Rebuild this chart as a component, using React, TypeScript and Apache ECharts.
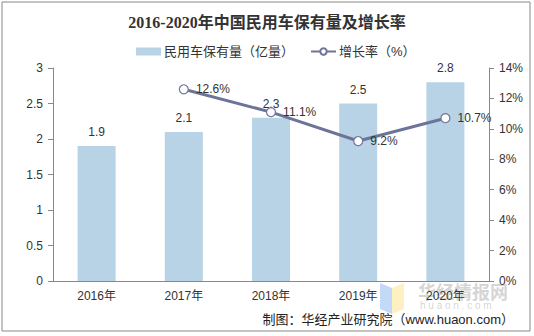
import React, { useEffect, useRef } from "react";
import * as echarts from "echarts";

const categories = ["2016年", "2017年", "2018年", "2019年", "2020年"];
const vehicles = [1.9, 2.1, 2.3, 2.5, 2.8];
const growth: (number | null)[] = [null, 12.6, 11.1, 9.2, 10.7];
const leftTicks = { min: 0, max: 3, interval: 0.5 };
const rightTicks = { min: 0, max: 14, interval: 2 };

const SANS = "Liberation Sans, Arial, Noto Sans CJK SC, sans-serif";

export default function App() {
  const ref = useRef<HTMLDivElement>(null);
  useEffect(() => {
    const chart = echarts.init(ref.current!, undefined, { renderer: "svg" });
    chart.setOption({
      animation: false,
      textStyle: { fontFamily: SANS },
      title: {
        text: "2016-2020年中国民用车保有量及增长率",
        left: "center",
        top: 9,
        textStyle: {
          fontFamily: "Liberation Serif, Noto Sans CJK SC, serif",
          fontWeight: "bold",
          fontSize: 16,
          color: "#333",
        },
      },
      legend: {
        top: 40,
        left: 131,
        itemGap: 16,
        itemWidth: 25,
        itemHeight: 8,
        textStyle: { fontSize: 13, color: "#333", fontFamily: SANS, padding: [0, 0, 0, -2] },
        data: [
          { name: "民用车保有量（亿量）", icon: "rect" },
          { name: "增长率（%）" },
        ],
      },
      grid: { left: 53, right: 45, top: 68, bottom: 55 },
      xAxis: {
        type: "category",
        data: categories,
        axisLine: { lineStyle: { color: "#888" } },
        axisTick: { lineStyle: { color: "#888" } },
        axisLabel: { color: "#333", fontSize: 12, margin: 9 },
      },
      yAxis: [
        {
          type: "value",
          ...leftTicks,
          axisLine: { show: true, lineStyle: { color: "#888" } },
          axisTick: { show: true, lineStyle: { color: "#888" } },
          splitLine: { show: false },
          axisLabel: { color: "#333", fontSize: 12, margin: 10 },
        },
        {
          type: "value",
          ...rightTicks,
          axisLine: { show: true, lineStyle: { color: "#888" } },
          axisTick: { show: true, lineStyle: { color: "#888" } },
          splitLine: { show: false },
          axisLabel: { color: "#333", fontSize: 12, margin: 10, formatter: "{value}%" },
        },
      ],
      series: [
        {
          name: "民用车保有量（亿量）",
          type: "bar",
          data: vehicles,
          barWidth: 38,
          itemStyle: { color: "#b8d3e5" },
          label: { show: true, position: "top", color: "#333", fontSize: 12, distance: 8 },
        },
        {
          name: "增长率（%）",
          type: "line",
          yAxisIndex: 1,
          data: growth,
          symbol: "circle",
          symbolSize: 9,
          lineStyle: { color: "#6c7599", width: 3 },
          itemStyle: { color: "#fff", borderColor: "#6c7599", borderWidth: 1.2 },
          label: {
            show: true,
            position: "right",
            distance: 7,
            color: "#333",
            fontSize: 12,
            formatter: "{c}%",
          },
        },
      ],
      graphic: [
        {
          type: "rect",
          shape: { x: 2, y: 2, width: 528, height: 329 },
          style: { fill: "none", stroke: "#888", lineWidth: 1 },
          silent: true,
          z: -1,
        },
        {
          type: "polygon",
          shape: { points: [[380, 283], [392, 288], [392, 314], [380, 309]] },
          style: { fill: "rgba(120,170,240,0.45)" },
          silent: true,
        },
        {
          type: "polygon",
          shape: { points: [[392, 288], [404, 283], [404, 309], [392, 314]] },
          style: { fill: "rgba(250,225,120,0.45)" },
          silent: true,
        },
        {
          type: "text",
          left: 418,
          top: 282,
          style: {
            text: "华经情报网",
            font: "bold 18px Noto Sans CJK SC, sans-serif",
            fill: "rgba(160,160,160,0.45)",
          },
          silent: true,
        },
        {
          type: "text",
          left: 420,
          top: 300,
          style: {
            text: "h u a o n . c o m",
            font: "10px Liberation Sans, sans-serif",
            fill: "rgba(160,160,160,0.45)",
          },
          silent: true,
        },
        {
          type: "text",
          right: 20,
          top: 313,
          style: {
            text: "制图：华经产业研究院（www.huaon.com）",
            font: "13px Liberation Sans, Noto Sans CJK SC, sans-serif",
            fill: "#222",
          },
          silent: true,
        },
      ],
    });
    return () => chart.dispose();
  }, []);
  return <div ref={ref} style={{ width: 534, height: 336, position: "absolute", left: 0, top: 0 }} />;
}
